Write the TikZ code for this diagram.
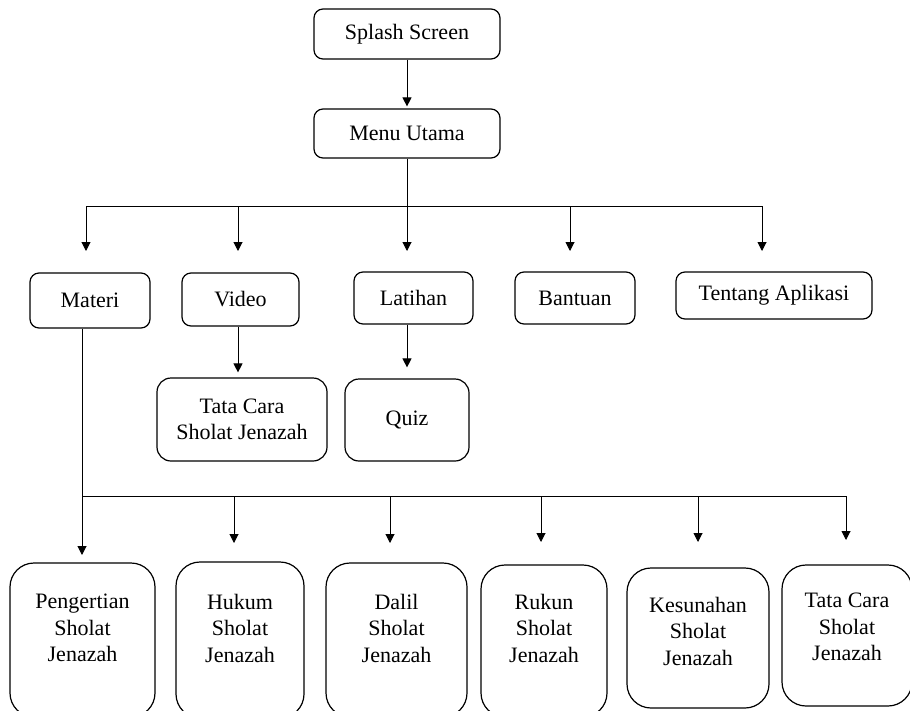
\documentclass[tikz,border=0pt]{standalone}
\usepackage{fontspec}
\setmainfont{Liberation Serif}
\usetikzlibrary{arrows.meta, positioning}

\tikzset{
  box/.style={draw, line width=1.2pt, rounded corners=9pt, align=center},
  midbox/.style={box, rounded corners=14pt},
  bigbox/.style={box, rounded corners=24pt},
  line/.style={line width=1pt},
  arr/.style={line, -{Triangle[length=9pt, width=9pt]}}
}

\begin{document}
\begin{tikzpicture}[x=1pt, y=-1pt, font=\fontsize{22}{26.5}\selectfont]
  \useasboundingbox[fill=white] (0,0) rectangle (910,710);
  % Top
  \node[box, minimum width=186pt, minimum height=50pt] (splash) at (407,34) {Splash Screen};
  \node[box, minimum width=186pt, minimum height=49pt] (menu) at (407,133.5) {Menu Utama};
  \draw[arr, shorten >=2pt] (splash) -- (menu);
  % Menu items
  \foreach \n/\x/\y/\w/\h/\ax/\txt in {materi/90/300.5/120/55/86/Materi,
      video/240.5/299.5/117/53/238/Video, latihan/413.5/298/119/52/407/Latihan,
      bantuan/575/298/120/52/570/Bantuan, tentang/774/295.5/196/47/762/Tentang Aplikasi} {
    \node[box, minimum width=\w pt, minimum height=\h pt] (\n) at (\x,\y) {\txt};
    \coordinate (\n-in) at (\ax,251);
  }
  \coordinate (topbus) at (0,206);
  \draw[line] (materi-in |- topbus) -- (tentang-in |- topbus);
  \draw[arr] (menu.south) -- (latihan-in);
  \foreach \n in {materi, video, bantuan, tentang}
    \draw[arr] (\n-in |- topbus) -- (\n-in);
  % Video and Latihan
  \node[midbox, minimum width=170pt, minimum height=83pt] (tcvideo) at (242,419.5) {Tata Cara\\Sholat Jenazah};
  \node[midbox, minimum width=124pt, minimum height=82pt] (quiz) at (407,420) {Quiz};
  \draw[arr, shorten >=5pt] ([xshift=-2.5pt]video.south) -- ([xshift=-2.5pt]video.south |- tcvideo.north);
  \draw[arr, shorten >=11pt] (quiz.north |- latihan.south) -- (quiz.north);
  % Materi
  \foreach \n/\x/\cy/\w/\h/\ty/\ax/\tip/\txt in {
      peng/82.5/640/145/154/628/82/555/{Pengertian\\Sholat\\Jenazah},
      hukum/240/640/128/156/628/234/543/{Hukum\\Sholat\\Jenazah},
      dalil/396.5/640/141/154/628/390/543/{Dalil\\Sholat\\Jenazah},
      rukun/544/641/126/152/628/541/542/{Rukun\\Sholat\\Jenazah},
      kesunahan/698/638/142/140/631/698/542/{Kesunahan\\Sholat\\Jenazah},
      tatacara/847/635.5/130/141/627/846/540/{Tata Cara\\Sholat\\Jenazah}} {
    \node[bigbox, minimum width=\w pt, minimum height=\h pt] (\n) at (\x,\cy) {};
    \node[align=center] (\n-text) at (\x,\ty) {\txt};
    \coordinate (\n-in) at (\ax,\tip);
  }
  \coordinate (bus) at (0,496);
  \draw[line] ([xshift=-8pt]materi.south) -- ([xshift=-8pt]materi.south |- bus) -- (tatacara-in |- bus);
  \foreach \n in {peng, hukum, dalil, rukun, kesunahan, tatacara}
    \draw[arr] (\n-in |- bus) -- (\n-in);
\end{tikzpicture}
\end{document}
